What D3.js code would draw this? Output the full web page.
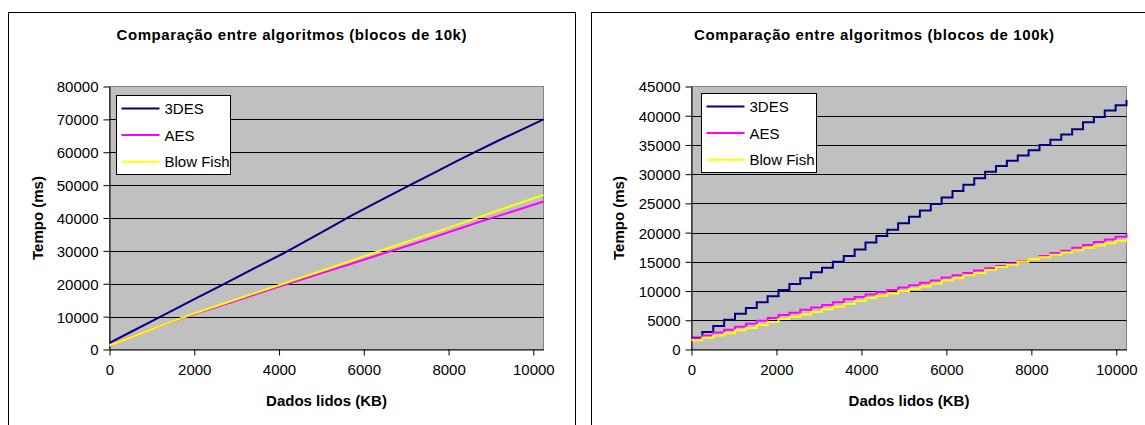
<!DOCTYPE html>
<html>
<head>
<meta charset="utf-8">
<script src="https://cdn.jsdelivr.net/npm/d3@7"></script>
<style>
  body { margin: 0; background: #fff; }
  text { font-family: "Liberation Sans", Arial, sans-serif; }
</style>
</head>
<body>
<script>
const seriesNames = ["3DES", "AES", "Blow Fish"];
const seriesColors = ["#000080", "#ff00ff", "#ffff00"];

// blocos de 10k: pontos a cada 512 KB
const kb10 = [0, 512, 1024, 1536, 2048, 2560, 3072, 3584, 4096, 4608, 5120,
  5632, 6144, 6656, 7168, 7680, 8192, 8704, 9216, 9728, 10240];
const des10 = [2000, 5400, 8800, 12200, 15600, 19000, 22400, 25800, 29200, 32800, 36500,
  40200, 43700, 47100, 50500, 53900, 57300, 60600, 63800, 66900, 70000];
const aes10 = [1300, 3900, 6300, 8700, 11000, 13100, 15200, 17400, 19500, 21600, 23700,
  25800, 27900, 30000, 32100, 34300, 36500, 38700, 40800, 42900, 45000];
const bf10 = [1200, 3800, 6300, 8800, 11200, 13400, 15600, 17800, 20000, 22200, 24400,
  26700, 29000, 31200, 33400, 35600, 37900, 40200, 42500, 44800, 47000];

// blocos de 100k: pontos a cada 256 KB
const kb100 = [0, 256, 512, 768, 1024, 1280, 1536, 1792, 2048, 2304, 2560, 2816, 3072, 3328,
  3584, 3840, 4096, 4352, 4608, 4864, 5120, 5376, 5632, 5888, 6144, 6400, 6656, 6912,
  7168, 7424, 7680, 7936, 8192, 8448, 8704, 8960, 9216, 9472, 9728, 9984, 10240];
const des100 = [2000, 3000, 4000, 5100, 6100, 7100, 8100, 9100, 10200, 11200, 12200, 13200, 14000, 15000,
  16000, 17100, 18300, 19400, 20500, 21600, 22700, 23800, 24900, 26000, 27100, 28200, 29300, 30400,
  31400, 32300, 33200, 34100, 35000, 35900, 36800, 37700, 38900, 39800, 40900, 41800, 42700];
const aes100 = [1900, 2400, 2900, 3400, 3900, 4400, 4900, 5400, 5900, 6300, 6800, 7200, 7600, 8100,
  8600, 9000, 9400, 9800, 10200, 10600, 11000, 11400, 11800, 12300, 12700, 13100, 13500, 13900,
  14300, 14700, 15100, 15500, 16000, 16500, 16900, 17400, 17900, 18400, 18800, 19300, 19800];
const bf100 = [1600, 2000, 2400, 2800, 3300, 3700, 4200, 4700, 5200, 5600, 6000, 6400, 6900, 7300,
  7800, 8300, 8800, 9200, 9600, 10000, 10400, 10800, 11300, 11800, 12200, 12700, 13100, 13600,
  14100, 14500, 15000, 15500, 15800, 16200, 16600, 17000, 17400, 17800, 18200, 18600, 19000];

const xTicks = [0, 2000, 4000, 6000, 8000, 10000];
const yTicks10 = [0, 10000, 20000, 30000, 40000, 50000, 60000, 70000, 80000];
const yTicks100 = [0, 5000, 10000, 15000, 20000, 25000, 30000, 35000, 40000, 45000];

const svg = d3.select("body").append("svg")
  .attr("width", 1145)
  .attr("height", 425);

function drawChart(o) {
  const g = svg.append("g");

  // moldura do gráfico
  g.append("rect")
    .attr("x", o.frame[0]).attr("y", 12.5)
    .attr("width", o.frame[1] - o.frame[0]).attr("height", 430)
    .attr("fill", "#fff").attr("stroke", "#000");

  const x = d3.scaleLinear().domain([0, 10240]).range([o.px0, o.px1]);
  const y = d3.scaleLinear().domain([0, o.ymax]).range([349.5, 86.5]);

  g.append("rect")
    .attr("x", o.px0).attr("y", 86.5)
    .attr("width", o.px1 - o.px0).attr("height", 263)
    .attr("fill", "#c0c0c0").attr("stroke", "#808080");

  g.selectAll(".grid").data(o.yTicks.slice(1, -1))
    .enter().append("line")
    .attr("x1", o.px0).attr("x2", o.px1)
    .attr("y1", d => Math.round(y(d)) + 0.5).attr("y2", d => Math.round(y(d)) + 0.5)
    .attr("stroke", "#000");

  const fmt = d3.format("d");
  const yAxis = g.append("g")
    .attr("transform", `translate(${o.px0},0)`)
    .call(d3.axisLeft(y).tickValues(o.yTicks).tickFormat(fmt)
      .tickSize(6).tickSizeOuter(0).tickPadding(5));
  const xAxis = g.append("g")
    .attr("transform", "translate(0,349.5)")
    .call(d3.axisBottom(x).tickValues(xTicks).tickFormat(fmt)
      .tickSize(6).tickSizeOuter(0).tickPadding(9));
  [yAxis, xAxis].forEach(a => {
    a.selectAll("text").attr("font-size", 15).attr("font-family", "Liberation Sans").attr("fill", "#000");
    a.selectAll("line, path").attr("stroke", "#000");
  });
  yAxis.selectAll("text").attr("dy", "0.36em");

  const line = d3.line()
    .x(d => x(d[0])).y(d => y(d[1]))
    .curve(o.curve);
  o.series.forEach((s, i) => {
    g.append("path")
      .datum(o.kb.map((k, j) => [k, s[j]]))
      .attr("fill", "none")
      .attr("stroke", seriesColors[i])
      .attr("stroke-width", 2)
      .attr("d", line);
  });

  // legenda
  const lg = g.append("g").attr("transform", `translate(${o.legend[0]},${o.legend[1]})`);
  lg.append("rect").attr("width", o.legend[2]).attr("height", 79)
    .attr("fill", "#fff").attr("stroke", "#000");
  seriesNames.forEach((n, i) => {
    const yy = 13 + i * 26.6;
    lg.append("line").attr("x1", 5).attr("x2", 43).attr("y1", yy).attr("y2", yy)
      .attr("stroke", seriesColors[i]).attr("stroke-width", 2);
    lg.append("text").attr("x", 48).attr("y", yy + 5.5)
      .attr("font-size", 15).text(n);
  });

  const cx = (o.px0 + o.px1) / 2;
  g.append("text")
    .attr("x", cx - 35).attr("y", 39.5)
    .attr("text-anchor", "middle")
    .attr("font-size", 15).attr("font-weight", "bold")
    .attr("textLength", o.titleLen).attr("lengthAdjust", "spacing")
    .text(o.title);
  g.append("text")
    .attr("x", cx).attr("y", 406)
    .attr("text-anchor", "middle")
    .attr("font-size", 15).attr("font-weight", "bold")
    .text("Dados lidos (KB)");
  g.append("text")
    .attr("transform", `translate(${o.ylabelX},218) rotate(-90)`)
    .attr("text-anchor", "middle")
    .attr("font-size", 15).attr("font-weight", "bold")
    .text("Tempo (ms)");
}

drawChart({
  frame: [8.5, 575.5], px0: 109.5, px1: 543.5, ymax: 80000, yTicks: yTicks10,
  kb: kb10, series: [des10, aes10, bf10], curve: d3.curveLinear,
  legend: [116.5, 95.5, 114], title: "Comparação entre algoritmos (blocos de 10k)",
  titleLen: 350, ylabelX: 43
});
drawChart({
  frame: [591.5, 1150], px0: 691.5, px1: 1126.5, ymax: 45000, yTicks: yTicks100,
  kb: kb100, series: [des100, aes100, bf100], curve: d3.curveStepAfter,
  legend: [701.5, 93.5, 115], title: "Comparação entre algoritmos (blocos de 100k)",
  titleLen: 360, ylabelX: 624
});
</script>
</body>
</html>
